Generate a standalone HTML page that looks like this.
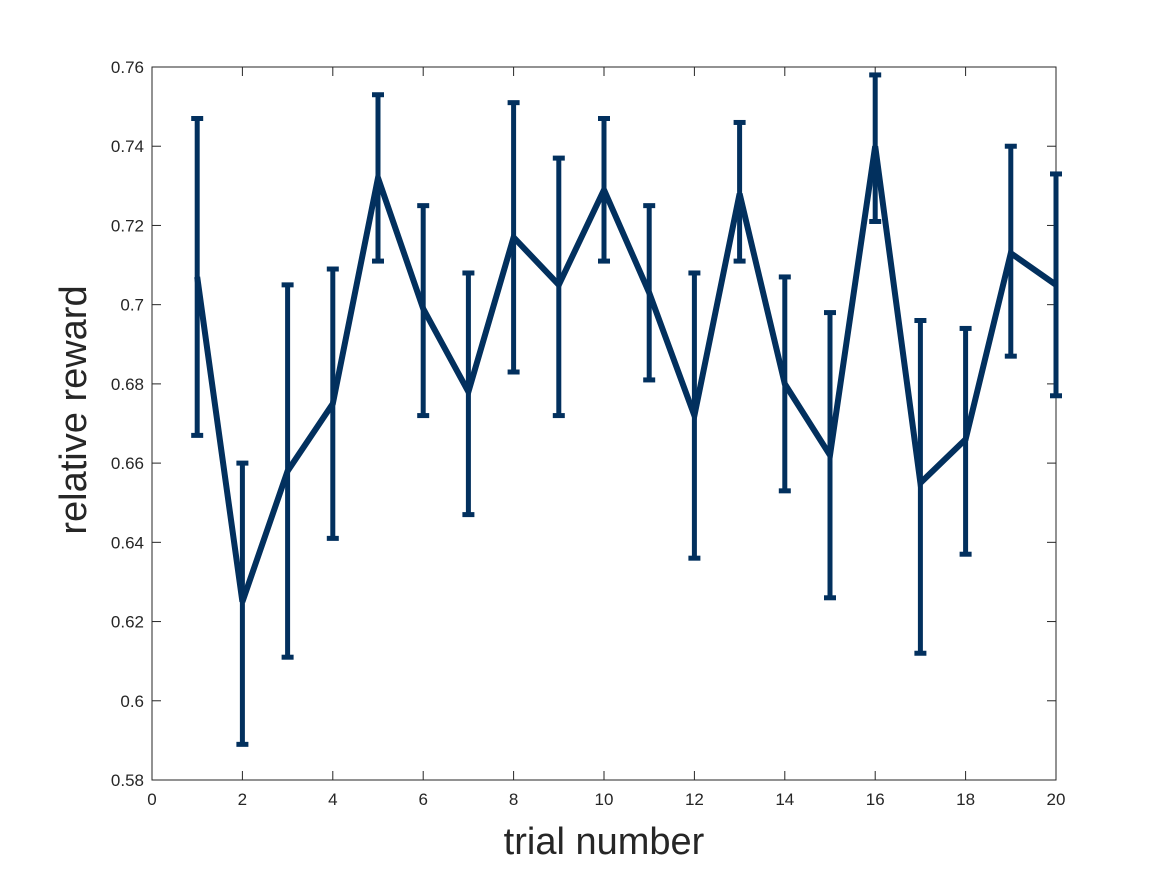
<!DOCTYPE html>
<html><head><meta charset="utf-8"><style>
body{margin:0;background:#fff;}
svg{display:block;font-family:"Liberation Sans",sans-serif;}
</style></head><body>
<svg id="chart" width="1167" height="875" viewBox="0 0 1167 875">
<rect x="152" y="67" width="904" height="713" fill="#fff" stroke="#262626" stroke-width="1"/>
<g id="ticks"></g>
<g id="marks"></g>
<text x="604" y="854" font-size="38" text-anchor="middle" fill="#262626">trial number</text>
<text transform="translate(86,410) rotate(-90)" font-size="38" text-anchor="middle" fill="#262626">relative reward</text>
</svg>
<script>
const trials=[1,2,3,4,5,6,7,8,9,10,11,12,13,14,15,16,17,18,19,20];
const means=[0.707,0.625,0.658,0.675,0.732,0.699,0.678,0.717,0.705,0.729,0.703,0.672,0.728,0.680,0.662,0.740,0.655,0.666,0.713,0.705];
const lowers=[0.667,0.589,0.611,0.641,0.711,0.672,0.647,0.683,0.672,0.711,0.681,0.636,0.711,0.653,0.626,0.721,0.612,0.637,0.687,0.677];
const uppers=[0.747,0.660,0.705,0.709,0.753,0.725,0.708,0.751,0.737,0.747,0.725,0.708,0.746,0.707,0.698,0.758,0.696,0.694,0.740,0.733];
const xTicks=[0,2,4,6,8,10,12,14,16,18,20];
const yTicks=[0.58,0.6,0.62,0.64,0.66,0.68,0.7,0.72,0.74,0.76];
const X0=152,X1=1056,Y0=780,Y1=67;
const xs=v=>X0+(v-0)/(20-0)*(X1-X0);
const ys=v=>Y0-(v-0.58)/(0.76-0.58)*(Y0-Y1);
const NS="http://www.w3.org/2000/svg";
const tg=document.getElementById('ticks'),mg=document.getElementById('marks');
function mk(tag,at,p){const e=document.createElementNS(NS,tag);for(const k in at)e.setAttribute(k,at[k]);p.appendChild(e);return e;}
xTicks.forEach(t=>{const x=xs(t);
 const l=mk('line',{x1:x,x2:x,y1:Y0,y2:Y0-9,stroke:'#262626'},tg);
 
 
 mk('line',{x1:x,x2:x,y1:Y1,y2:Y1+9,stroke:'#262626'},tg);
 const tx=mk('text',{x:x,y:Y0+25,'font-size':17,'text-anchor':'middle',fill:'#262626'},tg);tx.textContent=t;
 
 });
yTicks.forEach(t=>{const y=ys(t);
 const l=mk('line',{x1:X0,x2:X0+9,y1:y,y2:y,stroke:'#262626'},tg);
 
 
 mk('line',{x1:X1,x2:X1-9,y1:y,y2:y,stroke:'#262626'},tg);
 const tx=mk('text',{x:X0-8,y:y+6,'font-size':17,'text-anchor':'end',fill:'#262626'},tg);tx.textContent=String(t);
 
 });
const C='#02305e';
trials.forEach((t,i)=>{const x=xs(t);
 const g=mk('g',{},mg);
 
 
 mk('line',{x1:x,x2:x,y1:ys(lowers[i]),y2:ys(uppers[i]),stroke:C,'stroke-width':5},g);
 mk('line',{x1:x-6,x2:x+6,y1:ys(lowers[i]),y2:ys(lowers[i]),stroke:C,'stroke-width':5},g);
 mk('line',{x1:x-6,x2:x+6,y1:ys(uppers[i]),y2:ys(uppers[i]),stroke:C,'stroke-width':5},g);});
const pl=mk('polyline',{points:trials.map((t,i)=>xs(t)+','+ys(means[i])).join(' '),fill:'none',stroke:C,'stroke-width':6,'stroke-linejoin':'miter'},mg);


</script>
</body></html>
